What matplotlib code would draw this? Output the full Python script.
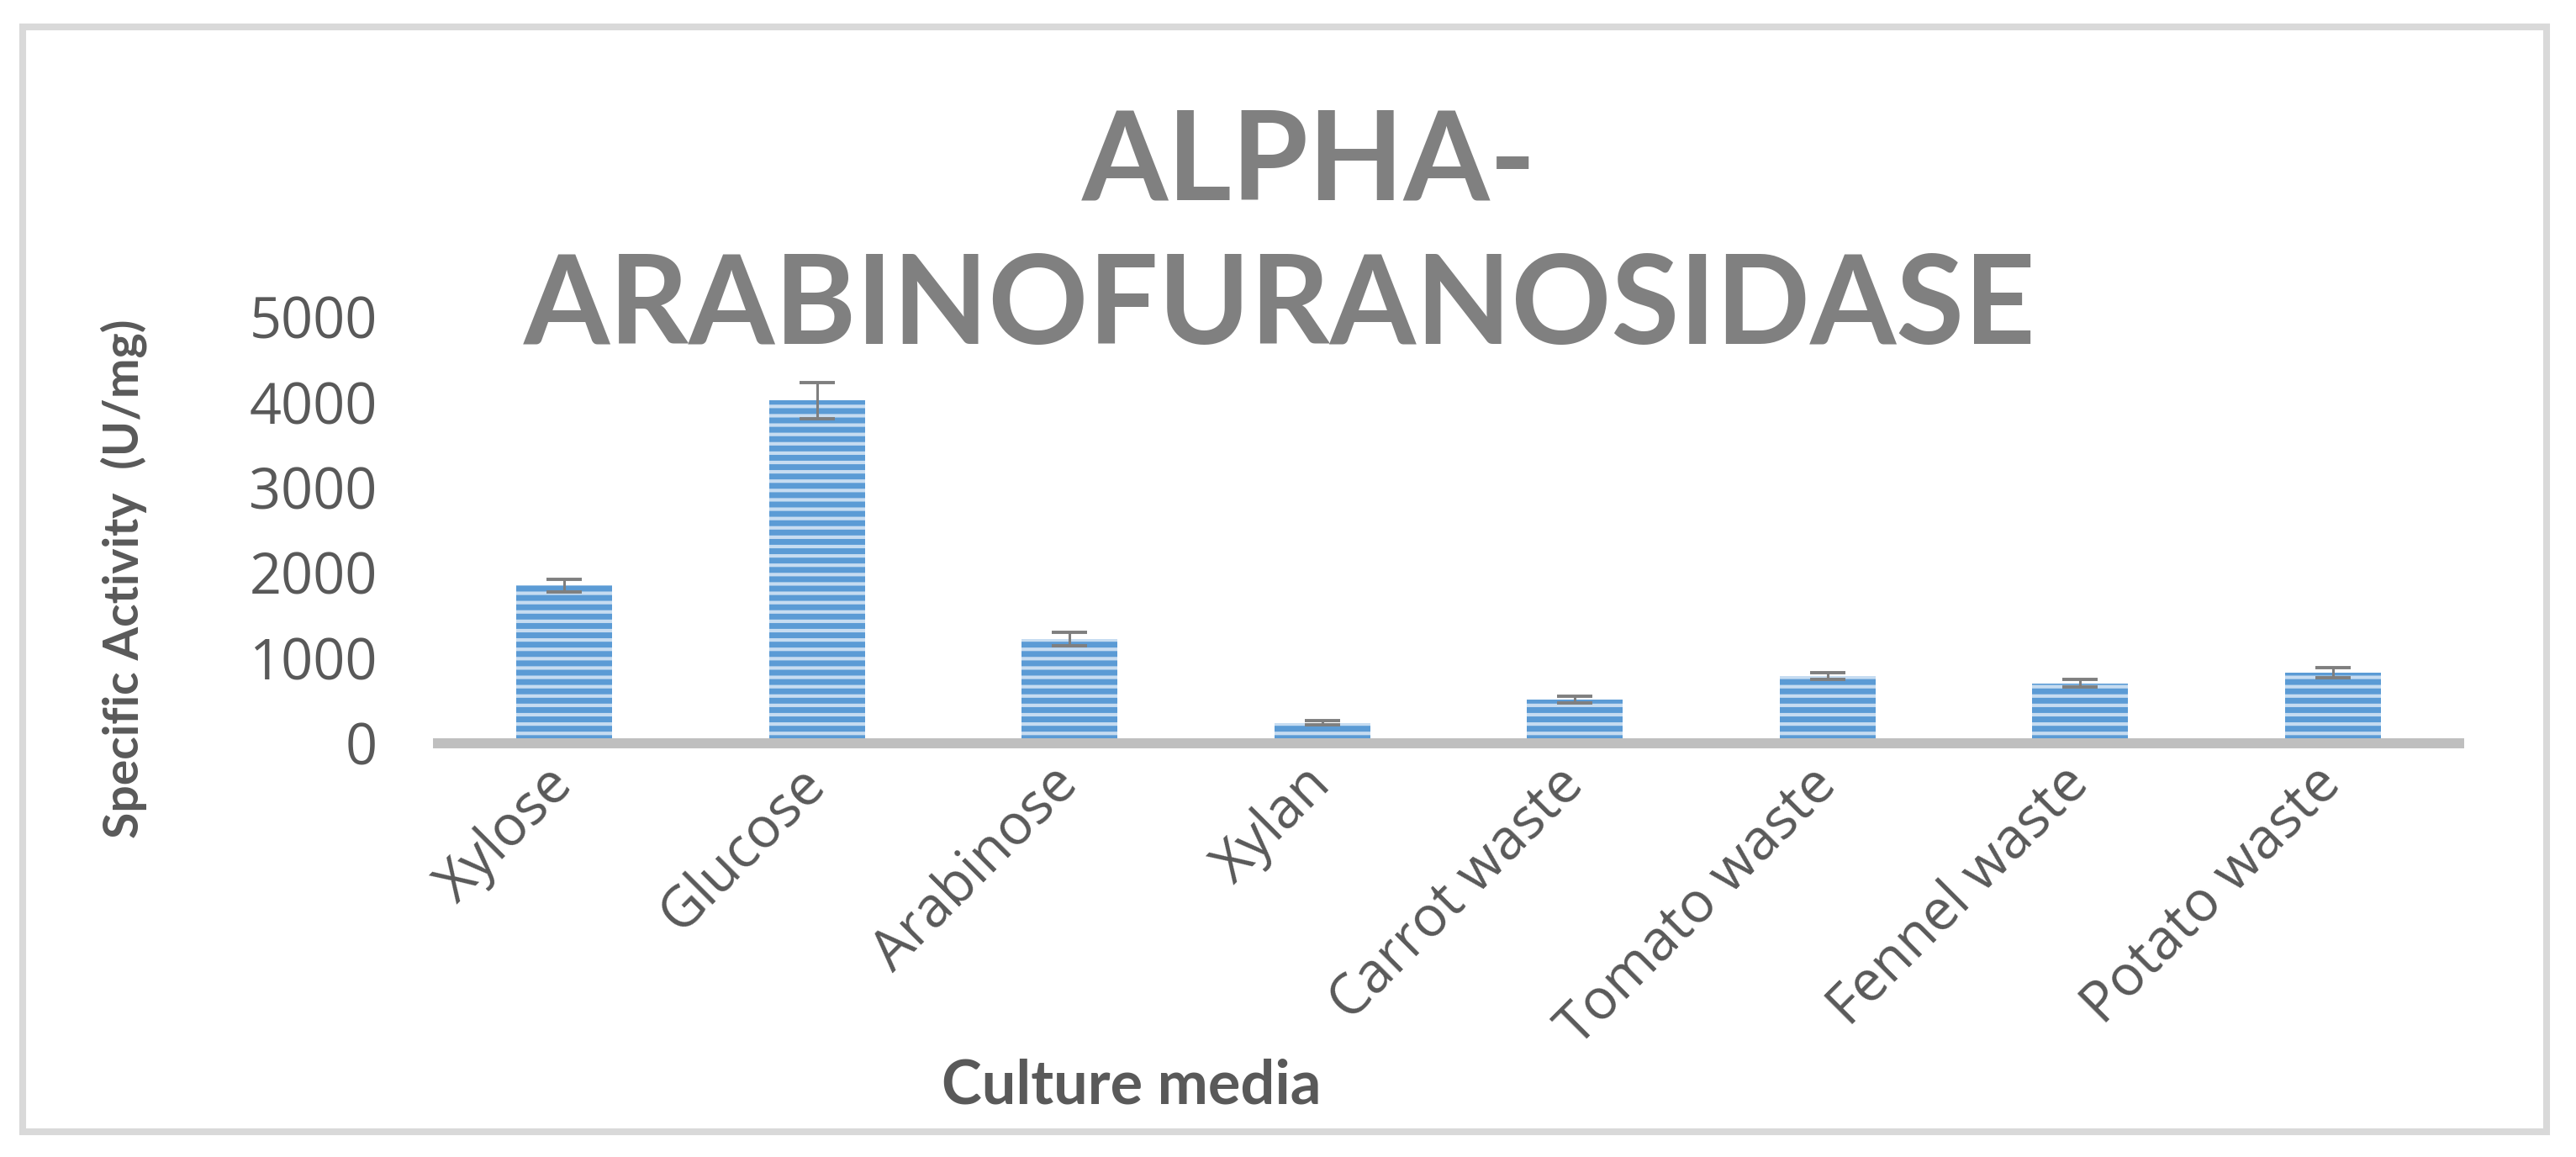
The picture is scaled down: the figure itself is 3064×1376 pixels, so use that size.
import matplotlib
matplotlib.use("Agg")
import matplotlib.pyplot as plt
from matplotlib.patches import Rectangle

# ---- data ----
categories = ["Xylose", "Glucose", "Arabinose", "Xylan", "Carrot waste",
              "Tomato waste", "Fennel waste", "Potato waste"]
activity = [1850, 4020, 1220, 240, 515, 790, 705, 830]
errors = [78, 215, 77, 22, 41, 41, 43, 60]
yticks = [0, 1000, 2000, 3000, 4000, 5000]

W, H, DPI = 3064, 1376, 200
plt.rcParams['hatch.linewidth'] = 1.5

fig = plt.figure(figsize=(W / DPI, H / DPI), dpi=DPI)
fig.patch.set_facecolor("white")

ax = fig.add_axes([521 / W, 1 - 884 / H, (2925 - 521) / W, (884 - 377) / H])
x = list(range(len(categories)))
ax.bar(x, activity, width=0.38, color="#5B9BD5", edgecolor="#C6DCF1",
       linewidth=0, hatch="---", zorder=2)
ax.errorbar(x, activity, yerr=errors, fmt="none", ecolor="#7F7F7F",
            elinewidth=1.1, capsize=7.5, capthick=1.4, zorder=3)

ax.set_xlim(-0.5, len(categories) - 0.5)
ax.set_ylim(0, 5000)
ax.set_yticks(yticks)
ax.set_yticklabels([str(v) for v in yticks])
ax.set_xticks(x)
ax.set_xticklabels(categories, rotation=45, ha="right", va="center",
                   rotation_mode="anchor")
for s in ["top", "right", "left"]:
    ax.spines[s].set_visible(False)
ax.spines["bottom"].set_color("#BFBFBF")
ax.spines["bottom"].set_linewidth(4.3)
ax.tick_params(axis="both", length=0, colors="#595959", labelsize=24)
ax.tick_params(axis="y", pad=26)
ax.tick_params(axis="x", pad=14)
for lab in ax.get_xticklabels() + ax.get_yticklabels():
    lab.set_fontfamily("Open Sans")
ax.set_facecolor("none")

# title (two lines)
fig.text(1557 / W, 1 - 195 / H, "ALPHA-", ha="center", va="center",
         fontsize=53, fontweight="bold", family="Lato", color="#808080")
fig.text(1522 / W, 1 - 367 / H, "ARABINOFURANOSIDASE", ha="center", va="center",
         fontsize=53, fontweight="bold", family="Lato", color="#808080")

# axis titles
fig.text(147 / W, 1 - 688 / H, "Specific Activity  (U/mg)", rotation=90,
         ha="center", va="center", fontsize=20.5, fontweight="bold",
         family="Lato", color="#595959")
fig.text(1346 / W, 1 - 1292 / H, "Culture media", ha="center", va="center",
         fontsize=26, fontweight="bold", family="Lato", color="#595959")

# outer chart border
fig.patches.append(Rectangle((27 / W, 1 - 1346 / H), (3029 - 27) / W,
                             (1346 - 32) / H, transform=fig.transFigure,
                             fill=False, edgecolor="#D9D9D9", linewidth=2.9))

fig.savefig("out.png", dpi=DPI)
